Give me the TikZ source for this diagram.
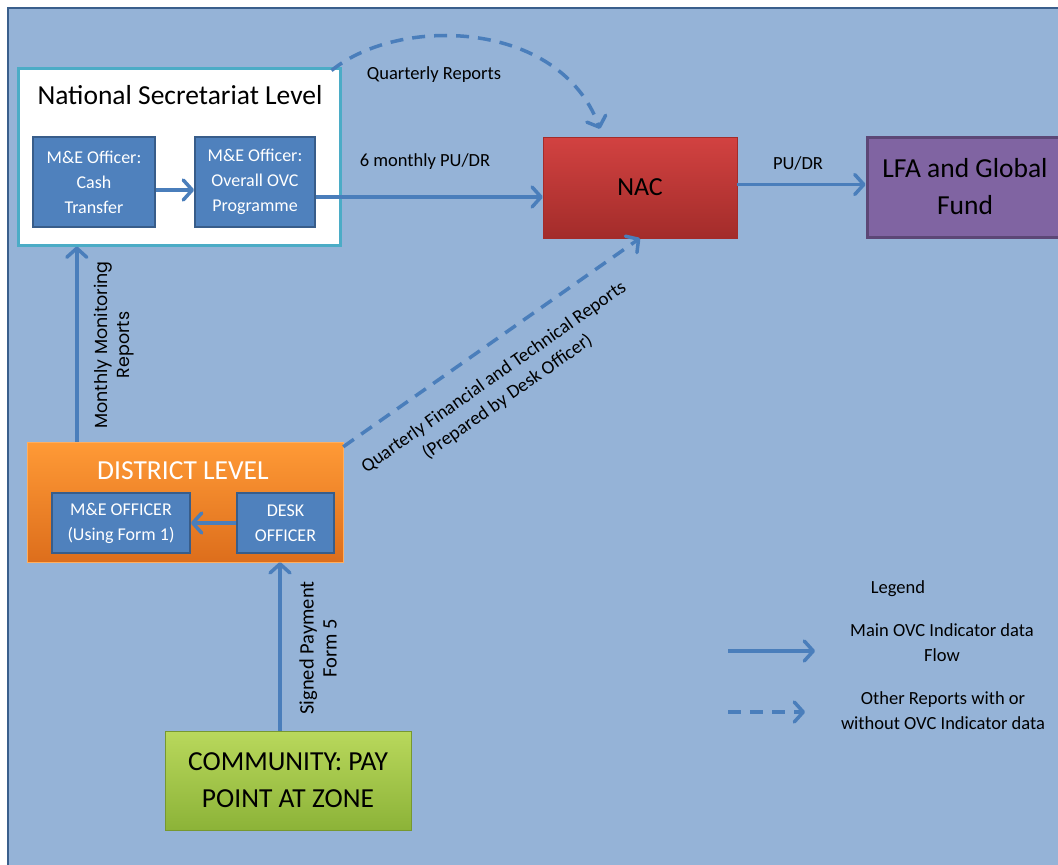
\documentclass[tikz,border=0pt]{standalone}
\usepackage{fontspec}
\setmainfont{Carlito}
\newfontfamily\gothic{Poppins}
\usetikzlibrary{arrows.meta,positioning}

\definecolor{bgblue}{HTML}{95B3D7}
\definecolor{frameblue}{HTML}{3A5F8C}
\definecolor{flowblue}{HTML}{4A7EBB}
\definecolor{boxblue}{HTML}{4F81BD}
\definecolor{boxedge}{HTML}{385D8A}
\definecolor{natedge}{HTML}{4BACC6}
\definecolor{nactop}{HTML}{D24241}
\definecolor{nacbot}{HTML}{A32C2A}
\definecolor{disttop}{HTML}{FF9A36}
\definecolor{distbot}{HTML}{DD6E1C}
\definecolor{commtop}{HTML}{B9D85C}
\definecolor{commbot}{HTML}{8CB338}
\definecolor{lfafill}{HTML}{8064A2}
\definecolor{lfaedge}{HTML}{5C4776}

\newcommand{\txtsize}[2]{\fontsize{#1}{#2}\selectfont}

\begin{document}
\begin{tikzpicture}[x=1pt,y=-1pt,font=\txtsize{18.5}{25},
  flow/.style={draw=flowblue,line width=3.5pt,-{Straight Barb[length=9pt,width=20pt,round]}},
  other/.style={flow,dash pattern=on 13pt off 9pt},
  officer/.style={draw=boxedge,line width=2pt,fill=boxblue,text=white,align=center,
    inner sep=0pt,font=\txtsize{18}{25}},
  lbl/.style={align=center,inner sep=0pt,font=\txtsize{18.5}{25}}]

\useasboundingbox (0,0) rectangle (1058,865);
\fill[white] (0,0) rectangle (1058,865);
\draw[frameblue,line width=2pt,fill=bgblue] (8,8) rectangle (1075,880);

% national level
\node[draw=natedge,line width=3pt,fill=white,minimum width=322pt,minimum height=177pt] (nsl) at (179,156.5) {};
\node[font=\txtsize{27.5}{32}] (nsltitle) at (180,95) {National Secretariat Level};
\node[officer,minimum width=122pt,minimum height=90pt] (cash) at (94,182) {M\&E Officer:\\Cash\\Transfer};
\node[officer,minimum width=120pt,minimum height=90pt] (overall) at (255,182) {M\&E Officer:\\Overall OVC\\Programme};

% nac and fund
\node[draw=nacbot,top color=nactop,bottom color=nacbot,minimum width=194pt,minimum height=101pt,
  font=\txtsize{26}{30}] (nac) at (640,187.5) {NAC};
\node[draw=lfaedge,line width=3pt,fill=lfafill,minimum width=196pt,minimum height=100pt,
  align=center,font=\txtsize{27.5}{37}] (lfa) at (965,187) {LFA and Global\\Fund};

% district level
\node[draw=disttop!80!white,top color=disttop,bottom color=distbot,minimum width=316pt,minimum height=120pt] (district) at (185,502) {};
\node[text=white,font=\txtsize{27.5}{32}] (disttitle) at (183,471) {DISTRICT LEVEL};
\node[officer,minimum width=138pt,minimum height=60pt] (meo) at (121,523) {M\&E OFFICER\\(Using Form 1)};
\node[officer,minimum width=97pt,minimum height=60pt] (desk) at (285.5,523) {DESK\\OFFICER};

% community
\node[draw=commbot!85!black,line width=1pt,top color=commtop,bottom color=commbot,minimum width=246pt,minimum height=99pt,
  align=center,font=\txtsize{27.5}{37}] (community) at (288,780.5) {COMMUNITY: PAY\\POINT AT ZONE};

% flows
\draw[flow] ([yshift=-8pt]cash.east) -- ([yshift=-8pt]overall.west);
\draw[flow] ([yshift=-15pt]overall.east) -- ([yshift=-15pt]overall.east -| nac.west);
\draw[flow] ([yshift=3pt]nac.east) -- ([yshift=3pt]nac.east -| lfa.west);
\draw[flow] (desk.west) -- (meo.east);
\draw[flow] ([xshift=50pt]district.north west) -- ([xshift=50pt]district.north west |- nsl.south);
\draw[flow] ([xshift=-8pt]community.north) -- ([xshift=-8pt]community.north |- district.south);
\draw[other] ([xshift=-10pt,yshift=-4pt]nsl.north east) .. controls (400,15) and (560,20) .. ([xshift=-40pt,yshift=8pt]nac.north);
\draw[other] ([yshift=-5pt]district.north east) -- (nac.south)
  node[lbl,pos=0.45,sloped,below=20pt,font=\txtsize{19}{24}] (qftlbl) {Quarterly Financial and Technical Reports\\(Prepared by Desk Officer)};

% labels
\node[lbl] (quartlbl) at (434,75) {Quarterly Reports};
\node[lbl] (sixlbl) at (425,162) {6 monthly PU/DR};
\node[lbl] (pudrlbl) at (798,163) {PU/DR};
\node[lbl,rotate=90,font=\gothic\txtsize{17.5}{22}] (monthlbl) at (114,345) {Monthly Monitoring\\Reports};
\node[lbl,rotate=90,font=\txtsize{20.5}{23}] (signlbl) at (318,648) {Signed Payment\\Form 5};

% legend
\node[lbl] (legend) at (898,589) {Legend};
\coordinate (mainA) at (728,651);
\coordinate (mainB) at (815,651);
\coordinate (otherA) at (728,712);
\coordinate (otherB) at (805,712);
\draw[flow] (mainA) -- (mainB);
\draw[other] (otherA) -- (otherB);
\node[lbl] (mainlbl) at (942,643) {Main OVC Indicator data\\Flow};
\node[lbl] (otherlbl) at (943,711) {Other Reports with or\\without OVC Indicator data};

\end{tikzpicture}
\end{document}
